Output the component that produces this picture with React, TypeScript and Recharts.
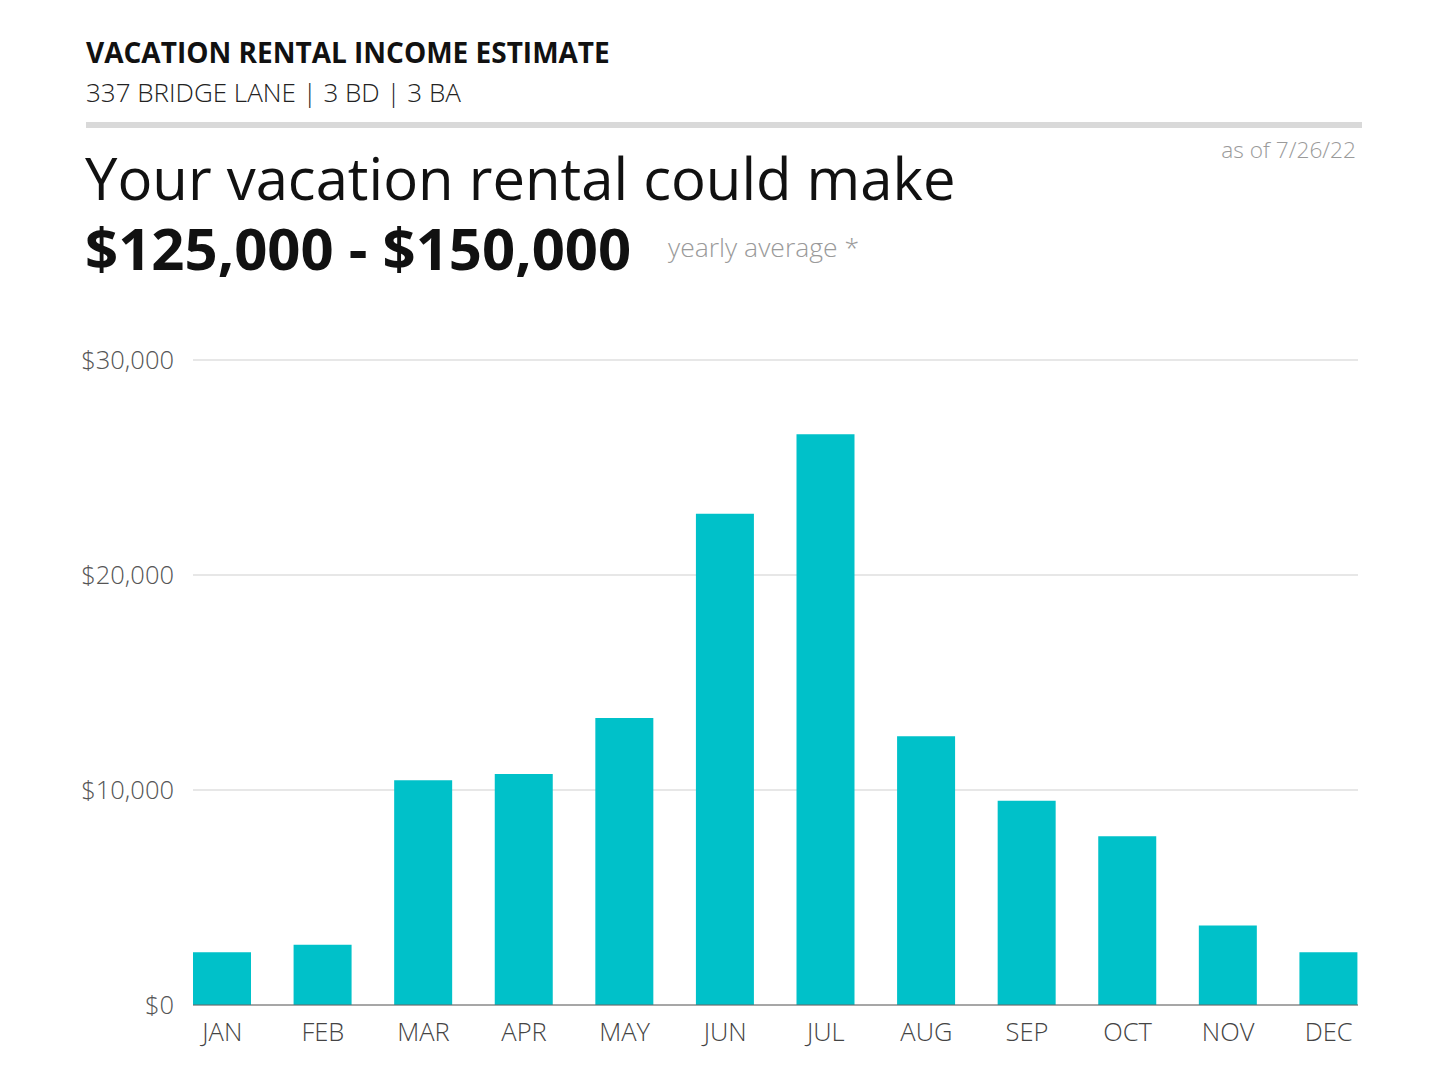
import React from "react";
import { BarChart, Bar, XAxis, YAxis, CartesianGrid } from "recharts";

const months = ["JAN", "FEB", "MAR", "APR", "MAY", "JUN", "JUL", "AUG", "SEP", "OCT", "NOV", "DEC"];
const income = [2450, 2800, 10450, 10750, 13350, 22850, 26550, 12500, 9500, 7850, 3700, 2450];
const yTicks = [0, 10000, 20000, 30000];

const data = months.map((m, i) => ({ month: m, income: income[i] }));

const FONT = "'Open Sans', 'Noto Sans', sans-serif";

const fmt = (v: number) => "$" + v.toLocaleString("en-US");

export default function App() {
  const abs = (s: React.CSSProperties): React.CSSProperties => ({
    position: "absolute",
    fontFamily: FONT,
    lineHeight: 1,
    whiteSpace: "nowrap",
    margin: 0,
    ...s,
  });
  return (
    <div style={{ position: "absolute", left: 0, top: 0, width: 1440, height: 1080, background: "#fff", overflow: "hidden" }}>
      <div style={abs({ left: 86, top: 38, fontSize: 28, fontWeight: 700, color: "#111" })}>
        VACATION RENTAL INCOME ESTIMATE
      </div>
      <div style={abs({ left: 86, top: 79, fontSize: 26, fontWeight: 300, color: "#222" })}>
        337 BRIDGE LANE | 3 BD | 3 BA
      </div>
      <div style={{ position: "absolute", left: 86, top: 122, width: 1276, height: 6, background: "#d9d9d9" }} />
      <div style={abs({ right: 1440 - 1356, top: 139, fontSize: 22.7, fontWeight: 300, color: "#9a9a9a" })}>
        as of 7/26/22
      </div>
      <div style={abs({ left: 85, top: 149, fontSize: 58, fontWeight: 400, color: "#111" })}>
        Your vacation rental could make
      </div>
      <div style={abs({ left: 85, top: 219, fontSize: 58, fontWeight: 700, color: "#111" })}>
        $125,000 - $150,000
      </div>
      <div style={abs({ left: 668, top: 234, fontSize: 26.5, fontWeight: 300, color: "#9a9a9a" })}>
        yearly average *
      </div>
      <div style={{ position: "absolute", left: 0, top: 0 }}>
        <BarChart
          width={1440}
          height={1080}
          data={data}
          margin={{ top: 360, right: 82, bottom: 45, left: 93 }}
        >
          <CartesianGrid vertical={false} stroke="#cfcfcf" strokeWidth={1} />
          <XAxis
            dataKey="month"
            height={30}
            padding={{ left: -21, right: -21 }}
            axisLine={{ stroke: "#666666", strokeWidth: 1 }}
            tickLine={false}
            tickSize={0}
            tickMargin={18}
            tick={{ fontFamily: FONT, fontSize: 25.5, fontWeight: 300, fill: "#444" }}
            interval={0}
          />
          <YAxis
            width={100}
            domain={[0, 30000]}
            ticks={yTicks}
            tickFormatter={fmt}
            axisLine={false}
            tickLine={false}
            tickSize={0}
            tickMargin={19}
            tick={{ fontFamily: FONT, fontSize: 25.5, fontWeight: 300, fill: "#555" }}
          />
          <Bar dataKey="income" fill="#00C1C9" barSize={58} isAnimationActive={false} />
        </BarChart>
      </div>
    </div>
  );
}
